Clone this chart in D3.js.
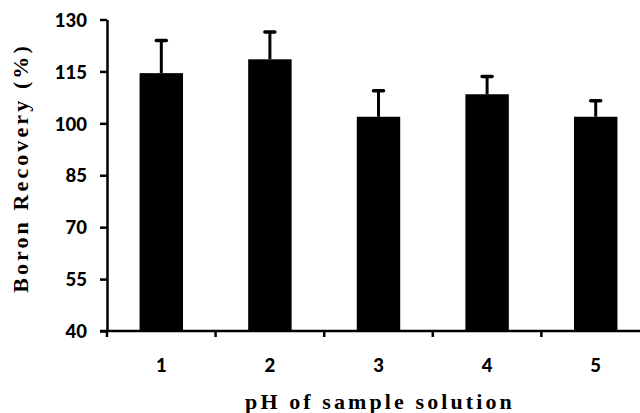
<!DOCTYPE html>
<html lang="en">
<head>
  <meta charset="UTF-8">
  <title>Boron Recovery vs pH</title>
  <script src="https://d3js.org/d3.v7.min.js"></script>
  <style>
    body { margin: 0; background: white; }
    svg { display: block; overflow: hidden; }
  </style>
</head>
<body>
  <svg id="chart" width="640" height="413"></svg>

  <script>
    const phLevels = ["1", "2", "3", "4", "5"];
    const recovery = [114.5, 118.5, 101.9, 108.4, 101.9];
    const errors = [9.4, 7.9, 7.5, 5.1, 4.6];
    const yTicks = [40, 55, 70, 85, 100, 115, 130];

    const svg = d3.select("#chart");

    const plotLeft = 107, plotRight = 650, plotTop = 19.5, plotBottom = 331;

    const x = d3.scaleBand()
      .domain(phLevels)
      .range([plotLeft, plotRight])
      .paddingInner(0.6)
      .paddingOuter(0.3);

    const y = d3.scaleLinear()
      .domain([40, 130])
      .range([plotBottom, plotTop]);

    const tickFont = "Lato, 'Open Sans', sans-serif";
    const titleFont = "'Liberation Serif', 'Times New Roman', serif";

    // bars
    svg.append("g")
      .selectAll("rect")
      .data(phLevels)
      .enter().append("rect")
      .attr("x", d => x(d))
      .attr("width", x.bandwidth())
      .attr("y", (d, i) => y(recovery[i]))
      .attr("height", (d, i) => y(40) - y(recovery[i]))
      .attr("fill", "#000");

    // error bars (upper only)
    const err = svg.append("g");
    phLevels.forEach((d, i) => {
      const cx = x(d) + x.bandwidth() / 2;
      const yt = y(recovery[i] + errors[i]);
      err.append("line")
        .attr("x1", cx).attr("x2", cx)
        .attr("y1", y(recovery[i])).attr("y2", yt)
        .attr("stroke", "#000").attr("stroke-width", 3);
      err.append("line")
        .attr("x1", cx - 5).attr("x2", cx + 5)
        .attr("y1", yt).attr("y2", yt)
        .attr("stroke", "#000").attr("stroke-width", 3.5)
        .attr("stroke-linecap", "round");
    });

    // y axis
    const yAxis = svg.append("g")
      .attr("transform", `translate(${plotLeft},0)`)
      .call(d3.axisLeft(y).tickValues(yTicks).tickSize(7).tickPadding(13).tickSizeOuter(0));
    yAxis.select(".domain").attr("stroke-width", 2.5);
    yAxis.selectAll(".tick line").attr("stroke-width", 2.5);
    yAxis.selectAll(".tick text")
      .attr("font-family", tickFont)
      .attr("font-weight", "900")
      .attr("font-size", "18.5px")
      .attr("fill", "#000")
      .attr("dy", "0.36em");

    // x axis: line plus ticks at band boundaries
    const xAxis = svg.append("g");
    xAxis.append("line")
      .attr("x1", plotLeft - 7).attr("x2", plotRight)
      .attr("y1", plotBottom).attr("y2", plotBottom)
      .attr("stroke", "#000").attr("stroke-width", 2.5);
    const step = x.step();
    phLevels.forEach((d, i) => {
      const bx = x(d) + x.bandwidth() / 2 - step / 2;
      xAxis.append("line")
        .attr("x1", bx).attr("x2", bx)
        .attr("y1", plotBottom).attr("y2", plotBottom + 6)
        .attr("stroke", "#000").attr("stroke-width", 2.5);
      xAxis.append("text")
        .attr("x", x(d) + x.bandwidth() / 2)
        .attr("y", 372)
        .attr("text-anchor", "middle")
        .attr("font-family", tickFont)
        .attr("font-weight", "900")
        .attr("font-size", "18.5px")
        .text(d);
    });

    // axis titles
    svg.append("text")
      .attr("x", (plotLeft + plotRight) / 2 + 1.5)
      .attr("y", 409)
      .attr("text-anchor", "middle")
      .attr("font-family", titleFont)
      .attr("font-weight", "bold")
      .attr("font-size", "22px")
      .attr("letter-spacing", "3.1px")
      .text("pH of sample solution");

    svg.append("text")
      .attr("transform", "translate(28,168) rotate(-90)")
      .attr("text-anchor", "middle")
      .attr("font-family", titleFont)
      .attr("font-weight", "bold")
      .attr("font-size", "22px")
      .attr("letter-spacing", "3.1px")
      .text("Boron Recovery (%)");
  </script>
</body>
</html>
